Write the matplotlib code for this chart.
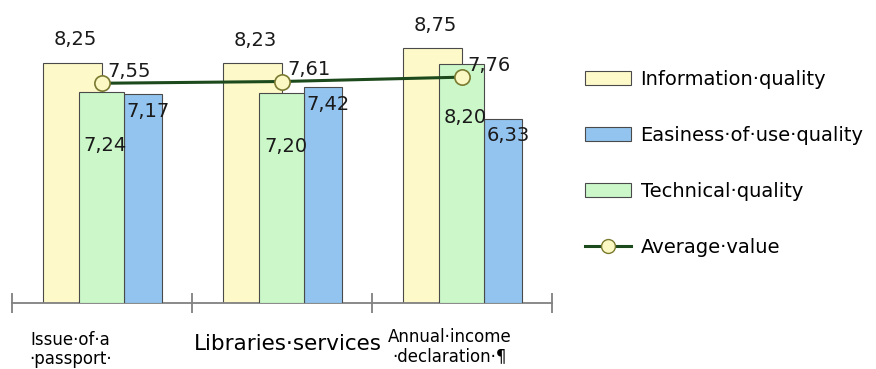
import matplotlib
matplotlib.use("Agg")
import matplotlib.pyplot as plt
from matplotlib.patches import Patch
from matplotlib.lines import Line2D
import numpy as np

plt.rcParams["font.family"] = ["DejaVu Sans"]

services = ["Issue·of·a\n·passport·", "Libraries·services", "Annual·income\n·declaration·¶"]
info_q = [8.25, 8.23, 8.75]
ease_q = [7.17, 7.42, 6.33]
tech_q = [7.24, 7.20, 8.20]
avg_val = [7.55, 7.61, 7.76]

C_INFO = "#fdf9c8"
C_EASE = "#93c4f0"
C_TECH = "#cbf7c9"
C_LINE = "#1d4a1d"
EDGE = "#4a4a4a"

def fmt(v):
    return f"{v:.2f}".replace(".", ",")

x = np.arange(len(services))
fig = plt.figure(figsize=(8.76, 3.69), dpi=100)
ax = fig.add_axes([0.0137, 0.179, 0.6164, 0.7886])

# overlapping bars: info at back, technical in front, easiness to the right
ax.bar(x - 0.164, info_q, width=0.328, color=C_INFO, edgecolor=EDGE, lw=0.8, zorder=2)
ax.bar(x + 0.228, ease_q, width=0.211, color=C_EASE, edgecolor=EDGE, lw=0.8, zorder=3)
ax.bar(x - 0.003, tech_q, width=0.25, color=C_TECH, edgecolor=EDGE, lw=0.8, zorder=4)
ax.plot(x, avg_val, color=C_LINE, lw=2.2, marker="o", ms=11, mfc="#fbf8c4",
        mec="#7a7a30", mew=1.2, zorder=6)

lab = dict(textcoords="offset pixels", ha="center", va="center", fontsize=14, color="#1a1a1a", zorder=7)
for i in range(len(x)):
    ax.annotate(fmt(info_q[i]), (x[i] - 0.164, info_q[i]), xytext=(3, 23), **lab)
    ax.annotate(fmt(tech_q[i]), (x[i] - 0.003, tech_q[i]), xytext=(4, -53), **lab)
    ax.annotate(fmt(ease_q[i]), (x[i] + 0.228, ease_q[i]), xytext=(5, -17), **lab)
    ax.annotate(fmt(avg_val[i]), (x[i], avg_val[i]), xytext=(27, 12), **lab)

ax.set_xlim(-0.5, 2.5)
ax.set_ylim(0, 10)
for s in ["top", "right", "left"]:
    ax.spines[s].set_visible(False)
ax.spines["bottom"].set_color("#808080")
ax.spines["bottom"].set_linewidth(1.3)
ax.set_yticks([])
ax.set_xticks([-0.5, 0.5, 1.5, 2.5])
ax.set_xticklabels([])
ax.tick_params(axis="x", direction="inout", length=14, width=1.3, color="#808080")

# category captions under the axis
cap_x = [-0.175, 0.03, -0.07]
cap_size = [12, 15.5, 12]
cap_y = [-0.95, -1.05, -0.85]
for i, name in enumerate(services):
    ax.text(x[i] + cap_x[i], cap_y[i], name, ha="center", va="top", fontsize=cap_size[i],
            linespacing=1.1, clip_on=False)

handles = [
    Patch(facecolor=C_INFO, edgecolor=EDGE, lw=0.8),
    Patch(facecolor=C_EASE, edgecolor=EDGE, lw=0.8),
    Patch(facecolor=C_TECH, edgecolor=EDGE, lw=0.8),
    Line2D([], [], color=C_LINE, lw=2.2, marker="o", ms=10, mfc="#fbf8c4", mec="#7a7a30"),
]
names = ["Information·quality", "Easiness·of·use·quality", "Technical·quality", "Average·value"]
fig.legend(handles, names, loc="upper left", bbox_to_anchor=(0.668, 0.81), frameon=False,
           fontsize=14, handlelength=2.35, handleheight=0.7, handletextpad=0.5,
           labelspacing=1.9, borderpad=0, borderaxespad=0)

fig.savefig("out.png", dpi=100)
